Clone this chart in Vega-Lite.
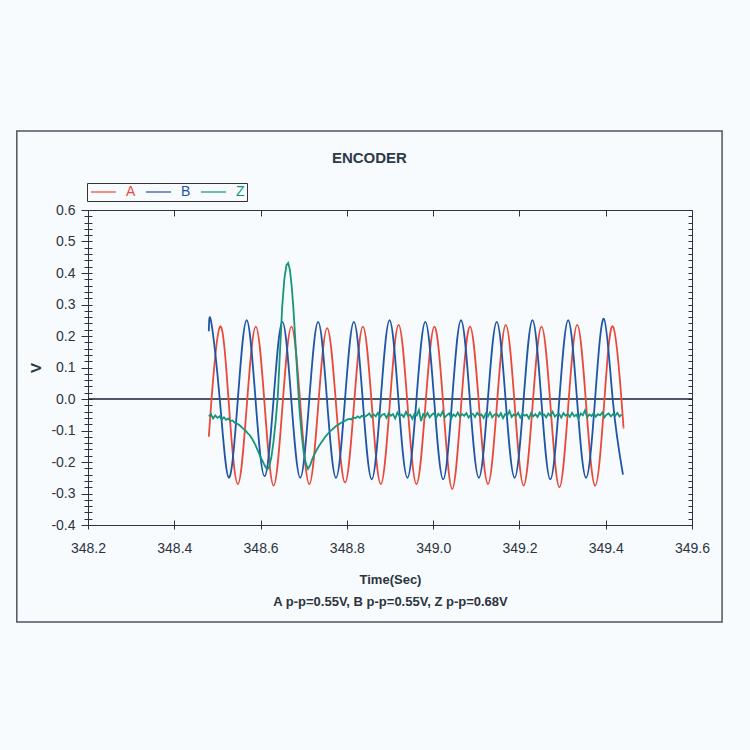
{
  "$schema": "https://vega.github.io/schema/vega-lite/v6.json",
  "width": 604,
  "height": 315,
  "autosize": {"type": "none"},
  "padding": {"left": 88, "top": 210, "right": 58, "bottom": 225},
  "background": "#f8fbfd",
  "title": {"text": "ENCODER", "anchor": "middle", "frame": "bounds", "offset": -36, "fontSize": 15, "fontWeight": "bold", "font": "Liberation Sans", "color": "#2b3a48"},
  "config": {"view": {"stroke": "#2b3440", "strokeWidth": 1}, "font": "Liberation Sans"},
  "data": {"values": [
    {"s":"A","t":348.48,"v":-0.12},{"s":"A","t":348.4853,"v":-0.02},{"s":"A","t":348.506,"v":0.23},{"s":"A","t":348.5267,"v":-0.02},{"s":"A","t":348.5474,"v":-0.27},{"s":"A","t":348.5681,"v":-0.02},{"s":"A","t":348.5888,"v":0.23},{"s":"A","t":348.6095,"v":-0.02},{"s":"A","t":348.6302,"v":-0.275},{"s":"A","t":348.6509,"v":-0.02},{"s":"A","t":348.6716,"v":0.23},{"s":"A","t":348.6923,"v":-0.02},{"s":"A","t":348.713,"v":-0.27},{"s":"A","t":348.7337,"v":-0.02},{"s":"A","t":348.7544,"v":0.225},{"s":"A","t":348.7751,"v":-0.02},{"s":"A","t":348.7958,"v":-0.265},{"s":"A","t":348.8165,"v":-0.02},{"s":"A","t":348.8372,"v":0.23},{"s":"A","t":348.8579,"v":-0.02},{"s":"A","t":348.8786,"v":-0.27},{"s":"A","t":348.8993,"v":-0.02},{"s":"A","t":348.92,"v":0.235},{"s":"A","t":348.9407,"v":-0.02},{"s":"A","t":348.9614,"v":-0.27},{"s":"A","t":348.9821,"v":-0.02},{"s":"A","t":349.0028,"v":0.23},{"s":"A","t":349.0235,"v":-0.02},{"s":"A","t":349.0442,"v":-0.285},{"s":"A","t":349.0649,"v":-0.02},{"s":"A","t":349.0856,"v":0.23},{"s":"A","t":349.1063,"v":-0.02},{"s":"A","t":349.127,"v":-0.27},{"s":"A","t":349.1477,"v":-0.02},{"s":"A","t":349.1684,"v":0.235},{"s":"A","t":349.1891,"v":-0.02},{"s":"A","t":349.2098,"v":-0.275},{"s":"A","t":349.2305,"v":-0.02},{"s":"A","t":349.2512,"v":0.23},{"s":"A","t":349.2719,"v":-0.02},{"s":"A","t":349.2926,"v":-0.28},{"s":"A","t":349.3133,"v":-0.02},{"s":"A","t":349.334,"v":0.235},{"s":"A","t":349.3547,"v":-0.02},{"s":"A","t":349.3754,"v":-0.275},{"s":"A","t":349.3961,"v":-0.02},{"s":"A","t":349.4168,"v":0.23},{"s":"A","t":349.4375,"v":-0.02},{"s":"A","t":349.441,"v":-0.09},
    {"s":"B","t":348.48,"v":0.215},{"s":"B","t":348.4855,"v":0.245},{"s":"B","t":348.5057,"v":-0.005},{"s":"B","t":348.5264,"v":-0.25},{"s":"B","t":348.5471,"v":-0.005},{"s":"B","t":348.5678,"v":0.25},{"s":"B","t":348.5885,"v":-0.005},{"s":"B","t":348.6092,"v":-0.245},{"s":"B","t":348.6299,"v":-0.005},{"s":"B","t":348.6506,"v":0.245},{"s":"B","t":348.6713,"v":-0.005},{"s":"B","t":348.692,"v":-0.25},{"s":"B","t":348.7127,"v":-0.005},{"s":"B","t":348.7334,"v":0.245},{"s":"B","t":348.7541,"v":-0.005},{"s":"B","t":348.7748,"v":-0.25},{"s":"B","t":348.7955,"v":-0.005},{"s":"B","t":348.8162,"v":0.245},{"s":"B","t":348.8369,"v":-0.005},{"s":"B","t":348.8576,"v":-0.255},{"s":"B","t":348.8783,"v":-0.005},{"s":"B","t":348.899,"v":0.25},{"s":"B","t":348.9197,"v":-0.005},{"s":"B","t":348.9404,"v":-0.25},{"s":"B","t":348.9611,"v":-0.005},{"s":"B","t":348.9818,"v":0.245},{"s":"B","t":349.0025,"v":-0.005},{"s":"B","t":349.0232,"v":-0.255},{"s":"B","t":349.0439,"v":-0.005},{"s":"B","t":349.0646,"v":0.25},{"s":"B","t":349.0853,"v":-0.005},{"s":"B","t":349.106,"v":-0.25},{"s":"B","t":349.1267,"v":-0.005},{"s":"B","t":349.1474,"v":0.245},{"s":"B","t":349.1681,"v":-0.005},{"s":"B","t":349.1888,"v":-0.25},{"s":"B","t":349.2095,"v":-0.005},{"s":"B","t":349.2302,"v":0.25},{"s":"B","t":349.2509,"v":-0.005},{"s":"B","t":349.2716,"v":-0.255},{"s":"B","t":349.2923,"v":-0.005},{"s":"B","t":349.313,"v":0.25},{"s":"B","t":349.3337,"v":-0.005},{"s":"B","t":349.3544,"v":-0.25},{"s":"B","t":349.3751,"v":-0.005},{"s":"B","t":349.3958,"v":0.255},{"s":"B","t":349.4165,"v":-0.005},{"s":"B","t":349.44,"v":-0.24},
    {"s":"Z","t":348.48,"v":-0.055},{"s":"Z","t":348.485,"v":-0.048},{"s":"Z","t":348.49,"v":-0.062},{"s":"Z","t":348.495,"v":-0.052},{"s":"Z","t":348.5,"v":-0.06},{"s":"Z","t":348.505,"v":-0.055},{"s":"Z","t":348.51,"v":-0.065},{"s":"Z","t":348.515,"v":-0.058},{"s":"Z","t":348.52,"v":-0.066},{"s":"Z","t":348.525,"v":-0.062},{"s":"Z","t":348.53,"v":-0.07},{"s":"Z","t":348.535,"v":-0.068},{"s":"Z","t":348.54,"v":-0.075},{"s":"Z","t":348.545,"v":-0.078},{"s":"Z","t":348.55,"v":-0.082},{"s":"Z","t":348.555,"v":-0.088},{"s":"Z","t":348.56,"v":-0.095},{"s":"Z","t":348.565,"v":-0.1},{"s":"Z","t":348.57,"v":-0.108},{"s":"Z","t":348.575,"v":-0.115},{"s":"Z","t":348.58,"v":-0.125},{"s":"Z","t":348.585,"v":-0.138},{"s":"Z","t":348.59,"v":-0.152},{"s":"Z","t":348.595,"v":-0.168},{"s":"Z","t":348.6,"v":-0.185},{"s":"Z","t":348.605,"v":-0.198},{"s":"Z","t":348.61,"v":-0.212},{"s":"Z","t":348.615,"v":-0.225},{"s":"Z","t":348.62,"v":-0.215},{"s":"Z","t":348.625,"v":-0.185},{"s":"Z","t":348.63,"v":-0.135},{"s":"Z","t":348.635,"v":-0.07},{"s":"Z","t":348.64,"v":0.01},{"s":"Z","t":348.645,"v":0.15},{"s":"Z","t":348.65,"v":0.29},{"s":"Z","t":348.655,"v":0.38},{"s":"Z","t":348.66,"v":0.425},{"s":"Z","t":348.664,"v":0.432},{"s":"Z","t":348.668,"v":0.41},{"s":"Z","t":348.672,"v":0.36},{"s":"Z","t":348.676,"v":0.29},{"s":"Z","t":348.68,"v":0.2},{"s":"Z","t":348.685,"v":0.08},{"s":"Z","t":348.69,"v":-0.03},{"s":"Z","t":348.695,"v":-0.11},{"s":"Z","t":348.7,"v":-0.17},{"s":"Z","t":348.705,"v":-0.205},{"s":"Z","t":348.71,"v":-0.222},{"s":"Z","t":348.715,"v":-0.21},{"s":"Z","t":348.72,"v":-0.19},{"s":"Z","t":348.725,"v":-0.175},{"s":"Z","t":348.73,"v":-0.162},{"s":"Z","t":348.735,"v":-0.15},{"s":"Z","t":348.74,"v":-0.14},{"s":"Z","t":348.745,"v":-0.13},{"s":"Z","t":348.75,"v":-0.12},{"s":"Z","t":348.755,"v":-0.112},{"s":"Z","t":348.76,"v":-0.104},{"s":"Z","t":348.765,"v":-0.098},{"s":"Z","t":348.77,"v":-0.092},{"s":"Z","t":348.775,"v":-0.086},{"s":"Z","t":348.78,"v":-0.082},{"s":"Z","t":348.785,"v":-0.077},{"s":"Z","t":348.79,"v":-0.073},{"s":"Z","t":348.795,"v":-0.07},{"s":"Z","t":348.8,"v":-0.066},{"s":"Z","t":348.805,"v":-0.063},{"s":"Z","t":348.81,"v":-0.065},{"s":"Z","t":348.815,"v":-0.058},{"s":"Z","t":348.82,"v":-0.061},{"s":"Z","t":348.825,"v":-0.055},{"s":"Z","t":348.83,"v":-0.06},{"s":"Z","t":348.835,"v":-0.053},{"s":"Z","t":348.84,"v":-0.058},
    {"s":"Z","t":348.847,"v":-0.052},{"s":"Z","t":348.852,"v":-0.046},{"s":"Z","t":348.857,"v":-0.057},{"s":"Z","t":348.862,"v":-0.049},{"s":"Z","t":348.867,"v":-0.055},{"s":"Z","t":348.872,"v":-0.044},{"s":"Z","t":348.877,"v":-0.058},{"s":"Z","t":348.882,"v":-0.05},{"s":"Z","t":348.887,"v":-0.047},{"s":"Z","t":348.892,"v":-0.06},{"s":"Z","t":348.897,"v":-0.045},{"s":"Z","t":348.902,"v":-0.053},{"s":"Z","t":348.907,"v":-0.048},{"s":"Z","t":348.912,"v":-0.062},{"s":"Z","t":348.917,"v":-0.043},{"s":"Z","t":348.922,"v":-0.055},{"s":"Z","t":348.927,"v":-0.049},{"s":"Z","t":348.932,"v":-0.057},{"s":"Z","t":348.937,"v":-0.041},{"s":"Z","t":348.942,"v":-0.054},{"s":"Z","t":348.947,"v":-0.05},{"s":"Z","t":348.952,"v":-0.063},{"s":"Z","t":348.957,"v":-0.046},{"s":"Z","t":348.962,"v":-0.052},{"s":"Z","t":348.967,"v":-0.035},{"s":"Z","t":348.972,"v":-0.07},{"s":"Z","t":348.977,"v":-0.048},{"s":"Z","t":348.982,"v":-0.056},{"s":"Z","t":348.987,"v":-0.044},{"s":"Z","t":348.992,"v":-0.058},{"s":"Z","t":348.997,"v":-0.05},{"s":"Z","t":349.002,"v":-0.045},{"s":"Z","t":349.007,"v":-0.06},{"s":"Z","t":349.012,"v":-0.047},{"s":"Z","t":349.017,"v":-0.054},{"s":"Z","t":349.022,"v":-0.04},{"s":"Z","t":349.027,"v":-0.058},{"s":"Z","t":349.032,"v":-0.051},{"s":"Z","t":349.037,"v":-0.046},{"s":"Z","t":349.042,"v":-0.061},{"s":"Z","t":349.047,"v":-0.049},{"s":"Z","t":349.052,"v":-0.055},{"s":"Z","t":349.057,"v":-0.043},{"s":"Z","t":349.062,"v":-0.056},{"s":"Z","t":349.067,"v":-0.048},{"s":"Z","t":349.072,"v":-0.053},{"s":"Z","t":349.077,"v":-0.045},{"s":"Z","t":349.082,"v":-0.059},{"s":"Z","t":349.087,"v":-0.05},{"s":"Z","t":349.092,"v":-0.047},{"s":"Z","t":349.097,"v":-0.057},{"s":"Z","t":349.102,"v":-0.044},{"s":"Z","t":349.107,"v":-0.052},{"s":"Z","t":349.112,"v":-0.049},{"s":"Z","t":349.117,"v":-0.06},{"s":"Z","t":349.122,"v":-0.046},{"s":"Z","t":349.127,"v":-0.055},{"s":"Z","t":349.132,"v":-0.042},{"s":"Z","t":349.137,"v":-0.058},{"s":"Z","t":349.142,"v":-0.05},{"s":"Z","t":349.147,"v":-0.047},{"s":"Z","t":349.152,"v":-0.056},{"s":"Z","t":349.157,"v":-0.045},{"s":"Z","t":349.162,"v":-0.061},{"s":"Z","t":349.167,"v":-0.048},{"s":"Z","t":349.172,"v":-0.052},{"s":"Z","t":349.177,"v":-0.038},{"s":"Z","t":349.182,"v":-0.057},{"s":"Z","t":349.187,"v":-0.049},{"s":"Z","t":349.192,"v":-0.054},{"s":"Z","t":349.197,"v":-0.044},{"s":"Z","t":349.202,"v":-0.059},{"s":"Z","t":349.207,"v":-0.047},{"s":"Z","t":349.212,"v":-0.053},{"s":"Z","t":349.217,"v":-0.05},{"s":"Z","t":349.222,"v":-0.062},{"s":"Z","t":349.227,"v":-0.045},{"s":"Z","t":349.232,"v":-0.055},{"s":"Z","t":349.237,"v":-0.048},{"s":"Z","t":349.242,"v":-0.057},{"s":"Z","t":349.247,"v":-0.043},{"s":"Z","t":349.252,"v":-0.052},{"s":"Z","t":349.257,"v":-0.049},{"s":"Z","t":349.262,"v":-0.058},{"s":"Z","t":349.267,"v":-0.046},{"s":"Z","t":349.272,"v":-0.054},{"s":"Z","t":349.277,"v":-0.041},{"s":"Z","t":349.282,"v":-0.056},{"s":"Z","t":349.287,"v":-0.05},{"s":"Z","t":349.292,"v":-0.047},{"s":"Z","t":349.297,"v":-0.059},{"s":"Z","t":349.302,"v":-0.045},{"s":"Z","t":349.307,"v":-0.053},{"s":"Z","t":349.312,"v":-0.048},{"s":"Z","t":349.317,"v":-0.057},{"s":"Z","t":349.322,"v":-0.044},{"s":"Z","t":349.327,"v":-0.055},{"s":"Z","t":349.332,"v":-0.05},{"s":"Z","t":349.337,"v":-0.062},{"s":"Z","t":349.342,"v":-0.046},{"s":"Z","t":349.347,"v":-0.052},{"s":"Z","t":349.352,"v":-0.036},{"s":"Z","t":349.357,"v":-0.058},{"s":"Z","t":349.362,"v":-0.049},{"s":"Z","t":349.367,"v":-0.054},{"s":"Z","t":349.372,"v":-0.045},{"s":"Z","t":349.377,"v":-0.056},{"s":"Z","t":349.382,"v":-0.048},{"s":"Z","t":349.387,"v":-0.052},{"s":"Z","t":349.392,"v":-0.043},{"s":"Z","t":349.397,"v":-0.058},{"s":"Z","t":349.402,"v":-0.05},{"s":"Z","t":349.407,"v":-0.046},{"s":"Z","t":349.412,"v":-0.055},{"s":"Z","t":349.417,"v":-0.048},{"s":"Z","t":349.422,"v":-0.053},{"s":"Z","t":349.427,"v":-0.044},{"s":"Z","t":349.432,"v":-0.056},{"s":"Z","t":349.437,"v":-0.049}
  ]},
  "layer": [
    {
      "data": {"values": [{}]},
      "mark": {"type": "rect", "filled": false, "stroke": "#4d5560", "strokeWidth": 1.5, "clip": false},
      "encoding": {
        "x": {"datum": 348.035, "type": "quantitative", "scale": {"domain": [348.2, 349.6], "nice": false, "zero": false}, "axis": null},
        "x2": {"datum": 349.6697},
        "y": {"datum": 0.851, "type": "quantitative", "scale": {"domain": [-0.4, 0.6], "nice": false, "zero": false}, "axis": null},
        "y2": {"datum": -0.708}
      }
    },
    {
      "data": {"values": [{}]},
      "mark": {"type": "rule", "color": "#16202e", "strokeWidth": 1.3},
      "encoding": {
        "y": {"datum": 0, "type": "quantitative", "scale": {"domain": [-0.4, 0.6], "nice": false, "zero": false}, "axis": null}
      }
    },
    {
      "transform": [{"filter": "datum.s !== 'Z'"}],
      "mark": {"type": "line", "interpolate": "natural", "strokeWidth": 1.8},
      "encoding": {
        "x": {"field": "t", "type": "quantitative", "scale": {"domain": [348.2, 349.6], "nice": false, "zero": false},
          "axis": {"orient": "bottom", "values": [348.2, 348.4, 348.6, 348.8, 349.0, 349.2, 349.4, 349.6], "format": ".1f", "domain": false, "offset": -5, "tickSize": 9, "tickColor": "#2b3440", "tickWidth": 1, "labelPadding": 12, "labelFontSize": 14, "labelColor": "#2b3440", "labelFont": "Liberation Sans", "labelFlush": false, "labelOverlap": false, "grid": false,
            "title": ["Time(Sec)", "A p-p=0.55V, B p-p=0.55V, Z p-p=0.68V"], "titleFont": "Liberation Sans", "titleFontSize": 13, "titleFontWeight": "bold", "titleColor": "#2b3440", "titleLineHeight": 22, "titlePadding": 18}},
        "y": {"field": "v", "type": "quantitative", "scale": {"domain": [-0.4, 0.6], "nice": false, "zero": false},
          "axis": {"orient": "left", "values": [-0.4,-0.38,-0.36,-0.34,-0.32,-0.3,-0.28,-0.26,-0.24,-0.22,-0.2,-0.18,-0.16,-0.14,-0.12,-0.1,-0.08,-0.06,-0.04,-0.02,0,0.02,0.04,0.06,0.08,0.1,0.12,0.14,0.16,0.18,0.2,0.22,0.24,0.26,0.28,0.3,0.32,0.34,0.36,0.38,0.4,0.42,0.44,0.46,0.48,0.5,0.52,0.54,0.56,0.58,0.6],
            "domain": false, "offset": -4,
            "tickSize": {"condition": {"test": "abs(datum.value*10 - round(datum.value*10)) < 0.001", "value": 11}, "value": 8},
            "tickColor": "#2b3440", "tickWidth": 1,
            "labelExpr": "abs(datum.value*10 - round(datum.value*10)) < 0.001 ? ((datum.value < -0.001 ? '-' : '') + format(abs(datum.value), '.1f')) : ''",
            "labelPadding": 6, "labelFontSize": 14, "labelColor": "#2b3440", "labelFont": "Liberation Sans", "labelFlush": false, "labelOverlap": false, "grid": false,
            "title": "V", "titleFont": "Liberation Sans", "titleFontSize": 15, "titleFontWeight": "bold", "titleColor": "#2b3440", "titlePadding": 7}},
        "color": {"field": "s", "type": "nominal",
          "scale": {"domain": ["A", "B", "Z"], "range": ["#e8493a", "#1f55a6", "#17957a"]},
          "legend": {"orient": "none", "legendX": -1, "legendY": -27, "direction": "horizontal", "title": null, "symbolType": "M-2.5,0H2.5", "symbolSize": 100, "symbolStrokeWidth": 1.2, "labelFontSize": 14, "labelFont": "Liberation Sans", "labelOffset": 9, "columnPadding": 7, "padding": 2, "strokeColor": "#333333",
            "encode": {"symbols": {"update": {"x": {"value": 14.5}}}, "labels": {"update": {"fill": {"scale": "color", "field": "value"}, "x": {"value": 37}}}}}}
      }
    },
    {
      "transform": [{"filter": "datum.s === 'Z'"}],
      "mark": {"type": "line", "interpolate": "linear", "strokeWidth": 1.8},
      "encoding": {
        "x": {"field": "t", "type": "quantitative", "scale": {"domain": [348.2, 349.6], "nice": false, "zero": false},
          "axis": {"orient": "top", "values": [348.2, 348.4, 348.6, 348.8, 349.0, 349.2, 349.4, 349.6], "labels": false, "domain": false, "offset": -6, "tickSize": 6, "tickColor": "#2b3440", "tickWidth": 1, "grid": false, "title": null}},
        "y": {"field": "v", "type": "quantitative", "scale": {"domain": [-0.4, 0.6], "nice": false, "zero": false},
          "axis": {"orient": "right", "values": [-0.4,-0.38,-0.36,-0.34,-0.32,-0.3,-0.28,-0.26,-0.24,-0.22,-0.2,-0.18,-0.16,-0.14,-0.12,-0.1,-0.08,-0.06,-0.04,-0.02,0,0.02,0.04,0.06,0.08,0.1,0.12,0.14,0.16,0.18,0.2,0.22,0.24,0.26,0.28,0.3,0.32,0.34,0.36,0.38,0.4,0.42,0.44,0.46,0.48,0.5,0.52,0.54,0.56,0.58,0.6],
            "labels": false, "domain": false, "offset": -4, "tickSize": 4, "tickColor": "#2b3440", "tickWidth": 1, "grid": false, "title": null}},
        "color": {"field": "s", "type": "nominal",
          "scale": {"domain": ["A", "B", "Z"], "range": ["#e8493a", "#1f55a6", "#17957a"]},
          "legend": {"orient": "none", "legendX": -1, "legendY": -27, "direction": "horizontal", "title": null, "symbolType": "M-2.5,0H2.5", "symbolSize": 100, "symbolStrokeWidth": 1.2, "labelFontSize": 14, "labelFont": "Liberation Sans", "labelOffset": 9, "columnPadding": 7, "padding": 2, "strokeColor": "#333333",
            "encode": {"symbols": {"update": {"x": {"value": 14.5}}}, "labels": {"update": {"fill": {"scale": "color", "field": "value"}, "x": {"value": 37}}}}}}
      }
    }
  ],
  "resolve": {"axis": {"x": "independent", "y": "independent"}}
}
